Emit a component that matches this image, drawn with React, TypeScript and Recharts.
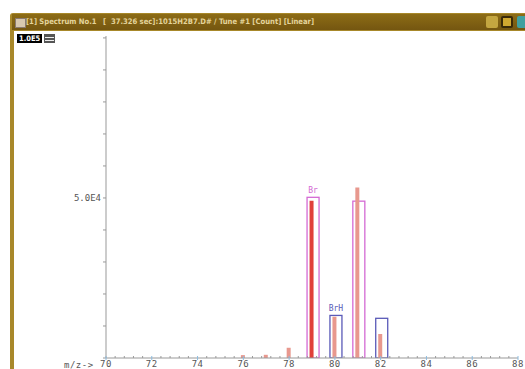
import { ComposedChart, Bar, XAxis, YAxis, Cell, LabelList } from "recharts";

// measured ion abundances
const masses = [76, 77, 78, 79, 80, 81, 82];
const abundances = [900, 1000, 3200, 49100, 12900, 53300, 7500];

// predicted isotope pattern boxes
const isoMasses = [79, 80, 81, 82];
const isoHeights = [50200, 13300, 49000, 12400];
const isoLabels = ["Br", "BrH", "", ""];
const isoGroups = ["Br", "BrH", "Br", "BrH"];

const majorTicks = [70, 72, 74, 76, 78, 80, 82, 84, 86, 88];
const yTicks = [0, 10000, 20000, 30000, 40000, 50000, 60000, 70000, 80000, 90000, 100000];

const xTicks: number[] = [];
majorTicks.slice(0, -1).forEach((t) => {
  for (let i = 0; i < 5; i++) xTicks.push(+(t + i * 0.4).toFixed(1));
});
xTicks.push(88);

const rows = masses.map((m, i) => {
  const k = isoMasses.indexOf(m);
  return {
    mz: m,
    count: abundances[i],
    iso: k >= 0 ? isoHeights[k] : null,
    label: k >= 0 ? isoLabels[k] : "",
    group: k >= 0 ? isoGroups[k] : "",
  };
});

const MONO = '"DejaVu Sans Mono", monospace';
const boxColor = (g: string) => (g === "Br" ? "#d46ad4" : "#5a5ab8");

const XTick = (props: any) => {
  const { x, y, payload } = props;
  const v = payload.value;
  const major = majorTicks.includes(v);
  return (
    <g>
      <line x1={x} x2={x} y1={y - 2} y2={y + (major ? 2 : 0)} stroke={major ? "#8cbce0" : "#9a9a9a"} />
      {major && (
        <text x={x} y={y + 9} textAnchor="middle" fontFamily={MONO} fontSize={9} fill="#555" letterSpacing={0.5}>
          {v}
        </text>
      )}
    </g>
  );
};

const BoxShape = (props: any) => {
  const { x, y, width, height, payload } = props;
  if (!payload || payload.iso == null) return null;
  return <rect x={x + 1.5} y={y} width={width} height={height} fill="none" stroke={boxColor(payload.group)} strokeWidth={1.3} />;
};

const IsoLabel = (props: any) => {
  const { x, y, width, value } = props;
  if (!value) return null;
  return (
    <text x={x + width / 2 + 1.5} y={y - 4} textAnchor="middle" fontFamily={MONO} fontSize={8} fill={boxColor(value)}>
      {value}
    </text>
  );
};

export default function App() {
  return (
    <div style={{ position: "absolute", left: 0, top: 0, width: 525, height: 369, overflow: "hidden", background: "#fff" }}>
      {/* window frame */}
      <div style={{ position: "absolute", left: 10, top: 13, width: 540, height: 380, background: "#a8882a", borderRadius: "3px 3px 0 0" }} />
      <div
        style={{
          position: "absolute",
          left: 12,
          top: 14,
          width: 540,
          height: 16,
          background: "linear-gradient(#8c6c16, #745610)",
          color: "#e4d49c",
          fontFamily: '"DejaVu Sans Condensed", "DejaVu Sans", sans-serif',
          fontSize: 7.6,
          fontWeight: "bold",
          lineHeight: "16px",
          whiteSpace: "pre",
        }}
      >
        <span style={{ position: "absolute", left: 3, top: 4, width: 9, height: 8, background: "#d8c8b0", border: "1px solid #8a7a70" }} />
        <span style={{ position: "absolute", left: 14 }}>[1] Spectrum No.1</span>
        <span style={{ position: "absolute", left: 91 }}>[  37.326 sec]:1015H2B7.D# / Tune #1 [Count] [Linear]</span>
        <span style={{ position: "absolute", left: 474, top: 2, width: 12, height: 12, background: "#c4a640", borderRadius: 2 }} />
        <span style={{ position: "absolute", left: 489, top: 2, width: 12, height: 12, background: "#d0a830", borderRadius: 2, boxSizing: "border-box", border: "2px solid #3a2a08" }} />
        <span style={{ position: "absolute", left: 505, top: 2, width: 12, height: 12, background: "#40a0a0", borderRadius: 2 }} />
      </div>
      <div style={{ position: "absolute", left: 14, top: 31, width: 520, height: 345, background: "#fff" }} />

      {/* scale badge */}
      <div
        style={{
          position: "absolute",
          left: 17,
          top: 34,
          height: 9,
          padding: "0 2px",
          background: "#000",
          color: "#fff",
          fontFamily: '"DejaVu Sans Condensed", sans-serif',
          fontSize: 7.5,
          fontWeight: "bold",
          lineHeight: "9px",
        }}
      >
        1.0E5
      </div>
      <div style={{ position: "absolute", left: 44, top: 34, width: 11, height: 9, background: "#555" }}>
        <div style={{ position: "absolute", left: 1, top: 3, width: 9, height: 1, background: "#eee" }} />
        <div style={{ position: "absolute", left: 1, top: 6, width: 9, height: 1, background: "#eee" }} />
      </div>

      <div style={{ position: "absolute", left: 0, top: 0 }}>
        <ComposedChart width={560} height={400} data={rows} margin={{ top: 36, right: 42, bottom: 22, left: 0 }}>
          <XAxis
            xAxisId="peaks"
            dataKey="mz"
            type="number"
            domain={[70, 88]}
            ticks={xTicks}
            interval={0}
            tick={<XTick />}
            tickLine={false}
            tickSize={0}
            tickMargin={0}
            axisLine={{ stroke: "#999" }}
            height={20}
            allowDataOverflow
          />
          <XAxis xAxisId="iso" dataKey="mz" type="number" domain={[70, 88]} orientation="top" height={0} hide allowDataOverflow />
          <YAxis
            type="number"
            domain={[0, 100600]}
            ticks={yTicks}
            interval={0}
            width={106}
            axisLine={{ stroke: "#999" }}
            tickLine={{ stroke: "#999" }}
            tickSize={3}
            tick={{ fontFamily: MONO, fontSize: 9, fill: "#555" }}
            tickFormatter={(v: number) => (v === 50000 ? "5.0E4" : "")}
            allowDataOverflow
          />
          <Bar xAxisId="iso" dataKey="iso" barSize={12} shape={<BoxShape />} isAnimationActive={false}>
            <LabelList dataKey="label" content={<IsoLabel />} />
          </Bar>
          <Bar xAxisId="peaks" dataKey="count" barSize={4} isAnimationActive={false}>
            {rows.map((p) => (
              <Cell key={p.mz} fill={p.mz === 79 ? "#e0403a" : "#e8988e"} />
            ))}
          </Bar>
        </ComposedChart>
      </div>

      <div style={{ position: "absolute", left: 64, top: 360, fontFamily: MONO, fontSize: 9, color: "#555", letterSpacing: 0.5 }}>m/z-&gt;</div>
    </div>
  );
}
